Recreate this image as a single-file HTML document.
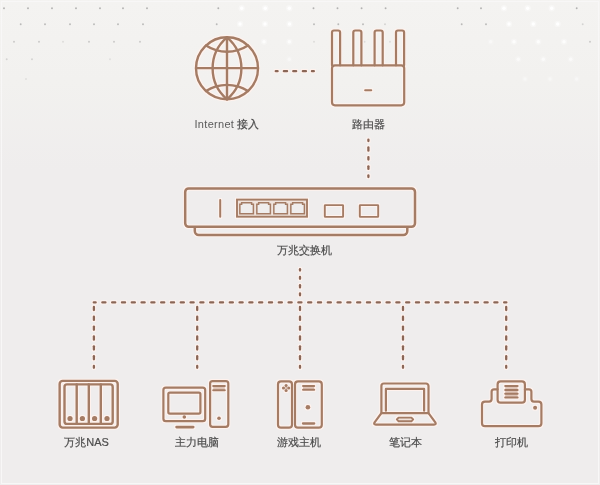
<!DOCTYPE html>
<html><head><meta charset="utf-8">
<style>
html,body{margin:0;padding:0;}
body{width:600px;height:485px;overflow:hidden;background:linear-gradient(to bottom,#f4f3f1 0px,#f2f1ef 80px,#efeded 170px,#efeded 485px);position:relative;font-family:"Liberation Sans",sans-serif;}
svg{position:absolute;left:0;top:0;filter:blur(0.3px);}
.lbl{position:absolute;font-size:11px;filter:blur(0.25px);-webkit-text-stroke:0.2px #4d4d4d;line-height:13px;color:#4d4d4d;white-space:nowrap;transform:translateX(-50%);}
</style></head><body>
<svg width="600" height="485" viewBox="0 0 600 485">
<defs><filter id="h" x="-10%" y="-10%" width="120%" height="120%" color-interpolation-filters="sRGB">
 <feMorphology in="SourceAlpha" operator="dilate" radius="1.3" result="d"/>
 <feGaussianBlur in="d" stdDeviation="0.5" result="db"/>
 <feFlood flood-color="#fff2ed" flood-opacity="1"/>
 <feComposite in2="db" operator="in" result="halo"/>
 <feMerge><feMergeNode in="halo"/><feMergeNode in="SourceGraphic"/></feMerge>
</filter></defs>
<rect x="1.5" y="1.5" width="597" height="482" fill="none" stroke="#f8f7f7" stroke-width="1"/>
<g><circle cx="4.0" cy="8.3" r="0.95" fill="#787878" opacity="0.53"/><circle cx="28.0" cy="8.3" r="0.95" fill="#787878" opacity="0.53"/><circle cx="52.0" cy="8.3" r="0.95" fill="#787878" opacity="0.53"/><circle cx="76.0" cy="8.3" r="0.95" fill="#787878" opacity="0.53"/><circle cx="100.0" cy="8.3" r="0.95" fill="#787878" opacity="0.53"/><circle cx="123.0" cy="8.3" r="0.95" fill="#787878" opacity="0.53"/><circle cx="147.0" cy="8.3" r="0.95" fill="#787878" opacity="0.53"/><circle cx="218.3" cy="8.3" r="0.95" fill="#787878" opacity="0.53"/><circle cx="313.5" cy="8.3" r="0.95" fill="#787878" opacity="0.53"/><circle cx="337.5" cy="8.3" r="0.95" fill="#787878" opacity="0.53"/><circle cx="361.6" cy="8.3" r="0.95" fill="#787878" opacity="0.53"/><circle cx="385.6" cy="8.3" r="0.95" fill="#787878" opacity="0.53"/><circle cx="457.7" cy="8.3" r="0.95" fill="#787878" opacity="0.53"/><circle cx="481.0" cy="8.3" r="0.95" fill="#787878" opacity="0.53"/><circle cx="576.7" cy="8.3" r="0.95" fill="#787878" opacity="0.53"/><circle cx="241.7" cy="8.3" r="3.2" fill="#ffffff" opacity="0.35"/><circle cx="241.7" cy="8.3" r="1.7" fill="#ffffff" opacity="1.00"/><circle cx="265.3" cy="8.3" r="3.2" fill="#ffffff" opacity="0.35"/><circle cx="265.3" cy="8.3" r="1.7" fill="#ffffff" opacity="1.00"/><circle cx="289.3" cy="8.3" r="3.2" fill="#ffffff" opacity="0.35"/><circle cx="289.3" cy="8.3" r="1.7" fill="#ffffff" opacity="1.00"/><circle cx="504.0" cy="8.3" r="3.2" fill="#ffffff" opacity="0.35"/><circle cx="504.0" cy="8.3" r="1.7" fill="#ffffff" opacity="1.00"/><circle cx="527.7" cy="8.3" r="3.2" fill="#ffffff" opacity="0.35"/><circle cx="527.7" cy="8.3" r="1.7" fill="#ffffff" opacity="1.00"/><circle cx="551.7" cy="8.3" r="3.2" fill="#ffffff" opacity="0.35"/><circle cx="551.7" cy="8.3" r="1.7" fill="#ffffff" opacity="1.00"/><circle cx="20.7" cy="24.2" r="0.95" fill="#787878" opacity="0.46"/><circle cx="45.0" cy="24.2" r="0.95" fill="#787878" opacity="0.46"/><circle cx="70.0" cy="24.2" r="0.95" fill="#787878" opacity="0.46"/><circle cx="94.0" cy="24.2" r="0.95" fill="#787878" opacity="0.46"/><circle cx="118.0" cy="24.2" r="0.95" fill="#787878" opacity="0.46"/><circle cx="143.0" cy="24.2" r="0.95" fill="#787878" opacity="0.46"/><circle cx="216.7" cy="24.2" r="0.95" fill="#787878" opacity="0.46"/><circle cx="314.0" cy="24.2" r="0.95" fill="#787878" opacity="0.46"/><circle cx="338.3" cy="24.2" r="0.95" fill="#787878" opacity="0.46"/><circle cx="363.0" cy="24.2" r="0.95" fill="#787878" opacity="0.46"/><circle cx="461.7" cy="24.2" r="0.95" fill="#787878" opacity="0.46"/><circle cx="486.0" cy="24.2" r="0.95" fill="#787878" opacity="0.46"/><circle cx="385.0" cy="24.2" r="0.95" fill="#787878" opacity="0.25"/><circle cx="582.7" cy="24.2" r="0.95" fill="#787878" opacity="0.25"/><circle cx="240.0" cy="24.0" r="3.2" fill="#ffffff" opacity="0.33"/><circle cx="240.0" cy="24.0" r="1.7" fill="#ffffff" opacity="0.95"/><circle cx="265.0" cy="24.0" r="3.2" fill="#ffffff" opacity="0.33"/><circle cx="265.0" cy="24.0" r="1.7" fill="#ffffff" opacity="0.95"/><circle cx="289.5" cy="24.0" r="3.2" fill="#ffffff" opacity="0.33"/><circle cx="289.5" cy="24.0" r="1.7" fill="#ffffff" opacity="0.95"/><circle cx="509.0" cy="24.0" r="3.2" fill="#ffffff" opacity="0.33"/><circle cx="509.0" cy="24.0" r="1.7" fill="#ffffff" opacity="0.95"/><circle cx="533.3" cy="24.0" r="3.2" fill="#ffffff" opacity="0.33"/><circle cx="533.3" cy="24.0" r="1.7" fill="#ffffff" opacity="0.95"/><circle cx="557.7" cy="24.0" r="3.2" fill="#ffffff" opacity="0.33"/><circle cx="557.7" cy="24.0" r="1.7" fill="#ffffff" opacity="0.95"/><circle cx="14.0" cy="41.7" r="0.95" fill="#787878" opacity="0.34"/><circle cx="39.0" cy="41.7" r="0.95" fill="#787878" opacity="0.34"/><circle cx="89.0" cy="41.7" r="0.95" fill="#787878" opacity="0.34"/><circle cx="114.0" cy="41.7" r="0.95" fill="#787878" opacity="0.34"/><circle cx="140.0" cy="41.7" r="0.95" fill="#787878" opacity="0.34"/><circle cx="590.0" cy="41.7" r="0.95" fill="#787878" opacity="0.34"/><circle cx="63.0" cy="41.7" r="0.95" fill="#787878" opacity="0.19"/><circle cx="314.0" cy="41.7" r="0.95" fill="#787878" opacity="0.19"/><circle cx="364.6" cy="41.7" r="0.95" fill="#787878" opacity="0.19"/><circle cx="390.0" cy="41.7" r="0.95" fill="#787878" opacity="0.19"/><circle cx="264.0" cy="41.7" r="3.2" fill="#ffffff" opacity="0.26"/><circle cx="264.0" cy="41.7" r="1.7" fill="#ffffff" opacity="0.75"/><circle cx="289.3" cy="41.7" r="3.2" fill="#ffffff" opacity="0.26"/><circle cx="289.3" cy="41.7" r="1.7" fill="#ffffff" opacity="0.75"/><circle cx="514.0" cy="41.7" r="3.2" fill="#ffffff" opacity="0.26"/><circle cx="514.0" cy="41.7" r="1.7" fill="#ffffff" opacity="0.75"/><circle cx="538.3" cy="41.7" r="3.2" fill="#ffffff" opacity="0.26"/><circle cx="538.3" cy="41.7" r="1.7" fill="#ffffff" opacity="0.75"/><circle cx="564.0" cy="41.7" r="3.2" fill="#ffffff" opacity="0.26"/><circle cx="564.0" cy="41.7" r="1.7" fill="#ffffff" opacity="0.75"/><circle cx="490.7" cy="41.7" r="3.2" fill="#ffffff" opacity="0.14"/><circle cx="490.7" cy="41.7" r="1.7" fill="#ffffff" opacity="0.40"/><circle cx="6.7" cy="59.3" r="0.95" fill="#787878" opacity="0.25"/><circle cx="32.0" cy="59.3" r="0.95" fill="#787878" opacity="0.25"/><circle cx="110.0" cy="59.3" r="0.95" fill="#787878" opacity="0.15"/><circle cx="289.3" cy="59.3" r="3.2" fill="#ffffff" opacity="0.14"/><circle cx="289.3" cy="59.3" r="1.7" fill="#ffffff" opacity="0.40"/><circle cx="518.3" cy="59.3" r="3.2" fill="#ffffff" opacity="0.19"/><circle cx="518.3" cy="59.3" r="1.7" fill="#ffffff" opacity="0.55"/><circle cx="543.3" cy="59.3" r="3.2" fill="#ffffff" opacity="0.19"/><circle cx="543.3" cy="59.3" r="1.7" fill="#ffffff" opacity="0.55"/><circle cx="570.7" cy="59.3" r="3.2" fill="#ffffff" opacity="0.19"/><circle cx="570.7" cy="59.3" r="1.7" fill="#ffffff" opacity="0.55"/><circle cx="26.0" cy="79" r="0.95" fill="#787878" opacity="0.15"/><circle cx="525.0" cy="79" r="3.2" fill="#ffffff" opacity="0.12"/><circle cx="525.0" cy="79" r="1.7" fill="#ffffff" opacity="0.35"/><circle cx="550.0" cy="79" r="3.2" fill="#ffffff" opacity="0.12"/><circle cx="550.0" cy="79" r="1.7" fill="#ffffff" opacity="0.35"/><circle cx="576.7" cy="79" r="3.2" fill="#ffffff" opacity="0.12"/><circle cx="576.7" cy="79" r="1.7" fill="#ffffff" opacity="0.35"/></g>
<g filter="url(#h)"><g stroke="#8a6656" stroke-width="2.3" stroke-linecap="round" fill="none"><line x1="275.75" y1="71.2" x2="277.60" y2="71.2"/><line x1="283.85" y1="71.2" x2="287.05" y2="71.2"/><line x1="293.25" y1="71.2" x2="296.15" y2="71.2"/><line x1="302.85" y1="71.2" x2="305.95" y2="71.2"/><line x1="311.95" y1="71.2" x2="313.85" y2="71.2"/><line x1="368.4" y1="139.65" x2="368.4" y2="141.05"/><line x1="368.4" y1="147.45" x2="368.4" y2="150.65"/><line x1="368.4" y1="157.05" x2="368.4" y2="159.55"/><line x1="368.4" y1="166.35" x2="368.4" y2="168.95"/><line x1="368.4" y1="175.45" x2="368.4" y2="177.05"/><line x1="300" y1="269.15" x2="300" y2="270.55"/><line x1="300" y1="276.95" x2="300" y2="278.85"/><line x1="300" y1="285.25" x2="300" y2="287.45"/><line x1="300" y1="293.45" x2="300" y2="295.25"/><line x1="93.75" y1="302.4" x2="95.65" y2="302.4"/><line x1="102.35" y1="302.4" x2="105.45" y2="302.4"/><line x1="112.15" y1="302.4" x2="115.25" y2="302.4"/><line x1="121.95" y1="302.4" x2="125.05" y2="302.4"/><line x1="131.75" y1="302.4" x2="134.85" y2="302.4"/><line x1="141.55" y1="302.4" x2="144.65" y2="302.4"/><line x1="151.35" y1="302.4" x2="154.45" y2="302.4"/><line x1="161.15" y1="302.4" x2="164.25" y2="302.4"/><line x1="170.95" y1="302.4" x2="174.05" y2="302.4"/><line x1="180.75" y1="302.4" x2="183.85" y2="302.4"/><line x1="190.55" y1="302.4" x2="193.65" y2="302.4"/><line x1="200.35" y1="302.4" x2="203.45" y2="302.4"/><line x1="210.15" y1="302.4" x2="213.25" y2="302.4"/><line x1="219.95" y1="302.4" x2="223.05" y2="302.4"/><line x1="229.75" y1="302.4" x2="232.85" y2="302.4"/><line x1="239.55" y1="302.4" x2="242.65" y2="302.4"/><line x1="249.35" y1="302.4" x2="252.45" y2="302.4"/><line x1="259.15" y1="302.4" x2="262.25" y2="302.4"/><line x1="268.95" y1="302.4" x2="272.05" y2="302.4"/><line x1="278.75" y1="302.4" x2="281.85" y2="302.4"/><line x1="288.55" y1="302.4" x2="291.65" y2="302.4"/><line x1="298.35" y1="302.4" x2="301.45" y2="302.4"/><line x1="308.15" y1="302.4" x2="311.25" y2="302.4"/><line x1="317.95" y1="302.4" x2="321.05" y2="302.4"/><line x1="327.75" y1="302.4" x2="330.85" y2="302.4"/><line x1="337.55" y1="302.4" x2="340.65" y2="302.4"/><line x1="347.35" y1="302.4" x2="350.45" y2="302.4"/><line x1="357.15" y1="302.4" x2="360.25" y2="302.4"/><line x1="366.95" y1="302.4" x2="370.05" y2="302.4"/><line x1="376.75" y1="302.4" x2="379.85" y2="302.4"/><line x1="386.55" y1="302.4" x2="389.65" y2="302.4"/><line x1="396.35" y1="302.4" x2="399.45" y2="302.4"/><line x1="406.15" y1="302.4" x2="409.25" y2="302.4"/><line x1="415.95" y1="302.4" x2="419.05" y2="302.4"/><line x1="425.75" y1="302.4" x2="428.85" y2="302.4"/><line x1="435.55" y1="302.4" x2="438.65" y2="302.4"/><line x1="445.35" y1="302.4" x2="448.45" y2="302.4"/><line x1="455.15" y1="302.4" x2="458.25" y2="302.4"/><line x1="464.95" y1="302.4" x2="468.05" y2="302.4"/><line x1="474.75" y1="302.4" x2="477.85" y2="302.4"/><line x1="484.55" y1="302.4" x2="487.65" y2="302.4"/><line x1="494.35" y1="302.4" x2="497.45" y2="302.4"/><line x1="504.15" y1="302.4" x2="506.35" y2="302.4"/><line x1="93.9" y1="306.90" x2="93.9" y2="310.10"/><line x1="93.9" y1="316.75" x2="93.9" y2="319.95"/><line x1="93.9" y1="326.60" x2="93.9" y2="329.80"/><line x1="93.9" y1="336.45" x2="93.9" y2="339.65"/><line x1="93.9" y1="346.30" x2="93.9" y2="349.50"/><line x1="93.9" y1="356.15" x2="93.9" y2="359.35"/><line x1="93.9" y1="366.00" x2="93.9" y2="367.85"/><line x1="197.2" y1="306.90" x2="197.2" y2="310.10"/><line x1="197.2" y1="316.75" x2="197.2" y2="319.95"/><line x1="197.2" y1="326.60" x2="197.2" y2="329.80"/><line x1="197.2" y1="336.45" x2="197.2" y2="339.65"/><line x1="197.2" y1="346.30" x2="197.2" y2="349.50"/><line x1="197.2" y1="356.15" x2="197.2" y2="359.35"/><line x1="197.2" y1="366.00" x2="197.2" y2="367.85"/><line x1="300" y1="306.90" x2="300" y2="310.10"/><line x1="300" y1="316.75" x2="300" y2="319.95"/><line x1="300" y1="326.60" x2="300" y2="329.80"/><line x1="300" y1="336.45" x2="300" y2="339.65"/><line x1="300" y1="346.30" x2="300" y2="349.50"/><line x1="300" y1="356.15" x2="300" y2="359.35"/><line x1="300" y1="366.00" x2="300" y2="367.85"/><line x1="403" y1="306.90" x2="403" y2="310.10"/><line x1="403" y1="316.75" x2="403" y2="319.95"/><line x1="403" y1="326.60" x2="403" y2="329.80"/><line x1="403" y1="336.45" x2="403" y2="339.65"/><line x1="403" y1="346.30" x2="403" y2="349.50"/><line x1="403" y1="356.15" x2="403" y2="359.35"/><line x1="403" y1="366.00" x2="403" y2="367.85"/><line x1="506.2" y1="306.90" x2="506.2" y2="310.10"/><line x1="506.2" y1="316.75" x2="506.2" y2="319.95"/><line x1="506.2" y1="326.60" x2="506.2" y2="329.80"/><line x1="506.2" y1="336.45" x2="506.2" y2="339.65"/><line x1="506.2" y1="346.30" x2="506.2" y2="349.50"/><line x1="506.2" y1="356.15" x2="506.2" y2="359.35"/><line x1="506.2" y1="366.00" x2="506.2" y2="367.85"/></g>
<g stroke="#a47c65" fill="none" stroke-width="2.2" stroke-linejoin="round" stroke-linecap="round">
  <!-- globe -->
  <circle cx="227" cy="68.3" r="31" stroke-width="2.4"/>
  <path d="M227 37.3 A40.6 40.6 0 0 0 227 99.3 A40.6 40.6 0 0 0 227 37.3" stroke-width="2.4"/>
  <line x1="227" y1="37.3" x2="227" y2="99.3" stroke-width="2.4"/>
  <line x1="196" y1="68.1" x2="258" y2="68.1" stroke-width="2.4"/>
  <path d="M206 45.5 A38.7 38.7 0 0 0 248 45.5" stroke-width="2.4"/>
  <path d="M206 91.1 A38.7 38.7 0 0 1 248 91.1" stroke-width="2.4"/>
  <!-- router -->
  <path d="M332 65.3 V32.5 a2 2 0 0 1 2 -2 H338.1 a2 2 0 0 1 2 2 V65.3"/>
  <path d="M353.3 65.3 V32.5 a2 2 0 0 1 2 -2 H359.4 a2 2 0 0 1 2 2 V65.3"/>
  <path d="M374.6 65.3 V32.5 a2 2 0 0 1 2 -2 H380.7 a2 2 0 0 1 2 2 V65.3"/>
  <path d="M396 65.3 V32.5 a2 2 0 0 1 2 -2 H402.1 a2 2 0 0 1 2 2 V65.3"/>
  <rect x="332" y="65.3" width="72.2" height="40" rx="3"/>
  <line x1="365.2" y1="90.2" x2="371.2" y2="90.2" stroke-width="2.1"/>
  <!-- switch -->
  <rect x="185.2" y="188.4" width="229.8" height="38.4" rx="3.5" stroke-width="2.5"/>
  <path d="M194.8 228 V231 a4 4 0 0 0 4 4 H403.3 a4 4 0 0 0 4 -4 V228" stroke-width="2.5"/>
  <line x1="220.2" y1="200" x2="220.2" y2="216.8" stroke-width="2"/>
  <rect x="237" y="199.6" width="70" height="17.1" stroke-width="1.9" stroke-linejoin="miter" fill="#f0e3dc"/>
  <g stroke-width="1.5" stroke-linejoin="miter" fill="#efeded">
    <path d="M239.84 213.8 V204.2 H241.64 V202.8 H251.60 V204.2 H253.40 V213.8 Z"/>
    <path d="M256.84 213.8 V204.2 H258.64 V202.8 H268.60 V204.2 H270.40 V213.8 Z"/>
    <path d="M273.84 213.8 V204.2 H275.64 V202.8 H285.60 V204.2 H287.40 V213.8 Z"/>
    <path d="M290.84 213.8 V204.2 H292.64 V202.8 H302.60 V204.2 H304.40 V213.8 Z"/>
  </g>
  <rect x="324.8" y="205.1" width="18.3" height="11.8" rx="0.5" stroke-width="1.9" stroke-linejoin="miter"/>
  <rect x="359.8" y="205.1" width="18.4" height="11.8" rx="0.5" stroke-width="1.9" stroke-linejoin="miter"/>
  <!-- NAS -->
  <rect x="59.65" y="380.9" width="58.05" height="46.7" rx="3" stroke-width="2.4"/>
  <rect x="64.5" y="384.4" width="48.2" height="39.5" rx="2.5" stroke-width="2.4"/>
  <line x1="76.7" y1="384.4" x2="76.7" y2="423.9" stroke-width="2.4"/>
  <line x1="88.8" y1="384.4" x2="88.8" y2="423.9" stroke-width="2.4"/>
  <line x1="100.8" y1="384.4" x2="100.8" y2="423.9" stroke-width="2.4"/>
  <!-- PC -->
  <rect x="163.4" y="387.6" width="41.8" height="33.6" rx="2.5"/>
  <rect x="168.3" y="392.6" width="32.1" height="21" rx="1.5"/>
  <line x1="176.6" y1="427.1" x2="193.2" y2="427.1" stroke-width="2.7"/>
  <rect x="210.1" y="381.1" width="18.2" height="45.7" rx="2.5"/>
  <rect x="213.2" y="386.1" width="11.6" height="4.1" fill="#dfc5b8" stroke="none"/>
  <line x1="213.2" y1="386.1" x2="224.8" y2="386.1" stroke-width="2"/>
  <line x1="213.2" y1="390.2" x2="224.8" y2="390.2" stroke-width="2"/>
  <!-- console -->
  <rect x="278" y="381.4" width="14" height="46.3" rx="3"/>
  <rect x="295" y="381.4" width="26.8" height="46.3" rx="3"/>
  <rect x="303" y="386" width="11.2" height="3.7" fill="#dfc5b8" stroke="none"/>
  <line x1="303" y1="386" x2="314.2" y2="386" stroke-width="2"/>
  <line x1="303" y1="389.7" x2="314.2" y2="389.7" stroke-width="2"/>
  <line x1="303" y1="423.5" x2="314.2" y2="423.5" stroke-width="2.3"/>
  <!-- laptop -->
  <path d="M381.4 413.2 V386 a2.5 2.5 0 0 1 2.5 -2.5 H426 a2.5 2.5 0 0 1 2.5 2.5 V413.2"/>
  <path d="M385.9 410.7 V388.9 H424.1 V410.7"/>
  <path d="M381.4 413.2 H428.5 L435.3 422.3 Q436.6 424.6 434 424.6 H375.9 Q373.3 424.6 374.6 422.3 Z"/>
  <path d="M398.6 417.6 H411.4 L413.2 419.45 L411.4 421.3 H398.6 L396.8 419.45 Z" stroke-width="1.9" fill="#f0e2da"/>
  <!-- printer -->
  <path d="M497.6 389.3 H494.1 Q491.6 389.3 491.6 391.8 V399.1 Q491.6 401.6 489.1 401.6 H485 Q482 401.6 482 404.6 V423.2 Q482 426.2 485 426.2 H538.4 Q541.4 426.2 541.4 423.2 V404.6 Q541.4 401.6 538.4 401.6 H533.9 Q531.4 401.6 531.4 399.1 V391.8 Q531.4 389.3 528.9 389.3 H524.9"/>
  <rect x="497.6" y="381.4" width="27.3" height="21.3" rx="3"/>
  <rect x="505.2" y="386" width="12.4" height="11.6" fill="#dfc5b8" stroke="none"/>
  <g stroke-width="2">
  <line x1="505.2" y1="386" x2="517.6" y2="386"/>
  <line x1="505.2" y1="389.9" x2="517.6" y2="389.9"/>
  <line x1="505.2" y1="393.8" x2="517.6" y2="393.8"/>
  <line x1="505.2" y1="397.6" x2="517.6" y2="397.6"/>
  </g>
</g>
<g fill="#a47c65">
  <circle cx="70" cy="418.5" r="2.6"/><circle cx="82.4" cy="418.5" r="2.6"/><circle cx="94.6" cy="418.5" r="2.6"/><circle cx="107" cy="418.5" r="2.6"/>
  <circle cx="184.3" cy="417" r="1.8"/>
  <circle cx="219" cy="418.2" r="1.8"/>
  <circle cx="286.1" cy="385.5" r="1.55"/><circle cx="283.5" cy="388" r="1.55"/><circle cx="288.7" cy="388" r="1.55"/><circle cx="286.1" cy="390.5" r="1.55"/><circle cx="286.1" cy="388" r="0.9" fill="#c9a898"/>
  <circle cx="307.9" cy="407.2" r="2.3"/>
  <circle cx="535.1" cy="407.7" r="2"/>
</g></g>
</svg>
<div class="lbl" style="left:226.9px;top:117.5px"><span style="letter-spacing:0.3px;-webkit-text-stroke:0;color:#5a5a5a">Internet</span> 接入</div>
<div class="lbl" style="left:368.4px;top:117.5px">路由器</div>
<div class="lbl" style="left:304.6px;top:244px">万兆交换机</div>
<div class="lbl" style="left:86.5px;top:435.5px">万兆NAS</div>
<div class="lbl" style="left:196.5px;top:435.5px">主力电脑</div>
<div class="lbl" style="left:298.6px;top:435.5px">游戏主机</div>
<div class="lbl" style="left:405px;top:435.5px">笔记本</div>
<div class="lbl" style="left:511.6px;top:435.5px">打印机</div>
</body></html>
